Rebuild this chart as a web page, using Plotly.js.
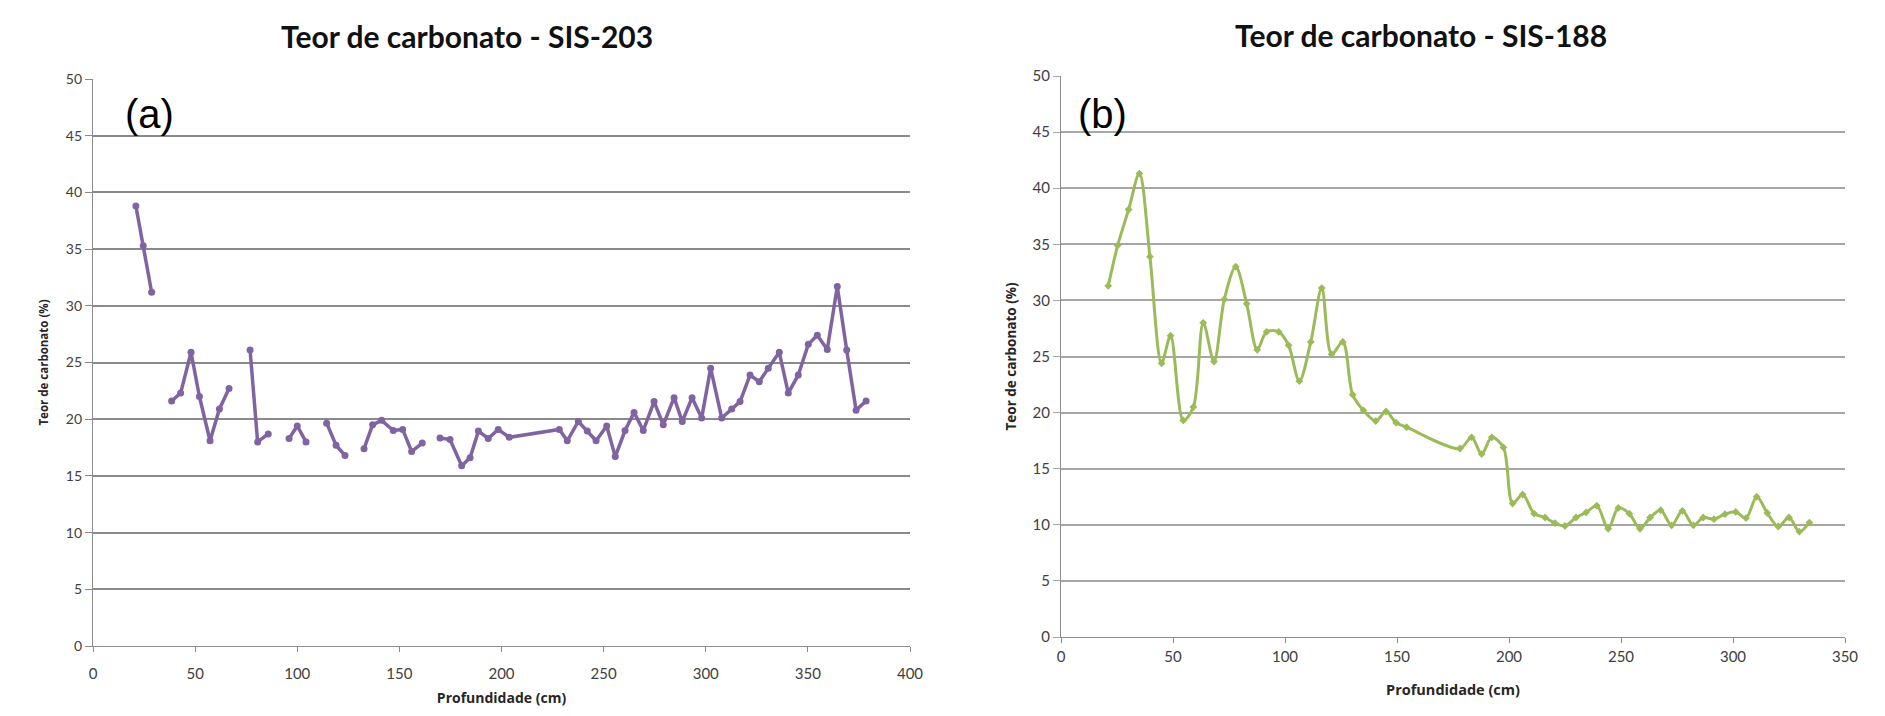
<!DOCTYPE html>
<html>
<head>
<meta charset="utf-8">
<script src="https://cdn.plot.ly/plotly-3.0.1.min.js"></script>
<style>
html,body{margin:0;padding:0;background:#fff;}
#chart{width:1885px;height:716px;}
</style>
</head>
<body>
<div id="chart"></div>
<script>
// SIS-203 (a): depth (cm) and carbonate content (%); null = gap in the series
const depthA = [21, 24.6, 28.7, null, 38.5, 42.9, 48, 52.1, 57.3, 61.9, 66.6, null, 76.9, 80.6, 85.8, null, 96, 100, 104.3, null, 114.4, 119, 123.4, null, 132.7, 136.9, 141.3, 147, 151.6, 156, 161.2, null, 169.9, 174.8, 180.5, 184.6, 188.7, 193.5, 198.4, 203.8, 228.3, 232.2, 237.6, 242, 246.3, 251.5, 255.7, 260.5, 264.9, 269.4, 274.7, 279.2, 284.5, 288.5, 293.3, 298, 302.4, 307.8, 312.7, 316.8, 321.7, 326.2, 330.6, 336, 340.4, 345.3, 350.2, 354.6, 359.5, 364.4, 369, 373.6, 378.5];
const carbA = [38.8, 35.3, 31.2, null, 21.6, 22.3, 25.9, 22.0, 18.1, 20.9, 22.7, null, 26.1, 18.0, 18.7, null, 18.3, 19.4, 18.0, null, 19.65, 17.7, 16.8, null, 17.4, 19.5, 19.9, 19.0, 19.1, 17.15, 17.9, null, 18.35, 18.2, 15.9, 16.6, 18.95, 18.3, 19.1, 18.4, 19.1, 18.1, 19.8, 18.95, 18.1, 19.4, 16.7, 19.0, 20.6, 19.0, 21.55, 19.5, 21.9, 19.8, 21.9, 20.1, 24.5, 20.1, 20.9, 21.55, 23.9, 23.3, 24.5, 25.9, 22.3, 23.9, 26.6, 27.4, 26.15, 31.7, 26.1, 20.8, 21.6];

// SIS-188 (b)
const depthB = [21.1, 25.3, 30.2, 35.0, 39.7, 44.9, 48.9, 54.6, 59.1, 63.5, 68.3, 72.9, 78, 82.9, 87.6, 91.8, 97.2, 101.6, 106.4, 111.5, 116.4, 120.8, 125.8, 130.2, 135, 140.5, 145.1, 149.6, 154.3, 178.1, 183.3, 187.8, 192.3, 197.5, 201.6, 206.1, 211.2, 216.1, 220.5, 225, 229.9, 234.4, 239.2, 244.3, 248.8, 253.7, 258.5, 263, 267.7, 272.6, 277.4, 282.3, 286.7, 291.5, 296.4, 301.2, 305.8, 310.6, 315.3, 320.2, 325, 329.6, 334.1];
const carbB = [31.3, 34.9, 38.1, 41.3, 33.9, 24.4, 26.85, 19.3, 20.5, 28.0, 24.55, 30.1, 33.0, 29.7, 25.6, 27.2, 27.2, 26.0, 22.8, 26.3, 31.1, 25.2, 26.3, 21.6, 20.2, 19.25, 20.1, 19.1, 18.7, 16.8, 17.8, 16.3, 17.8, 16.9, 11.9, 12.7, 11.0, 10.65, 10.15, 9.9, 10.65, 11.1, 11.7, 9.65, 11.5, 11.0, 9.65, 10.65, 11.3, 9.95, 11.25, 9.95, 10.65, 10.5, 10.95, 11.15, 10.6, 12.5, 11.05, 9.85, 10.65, 9.4, 10.2];

const titleA = 'Teor de carbonato - SIS-203';
const titleB = 'Teor de carbonato - SIS-188';
const xTitle = 'Profundidade (cm)';
const yTitle = 'Teor de carbonato (%)';

const W = 1885, H = 716;
const px = v => v / W;
const py = v => 1 - v / H;

const traceA = {
  x: depthA, y: carbA, xaxis: 'x', yaxis: 'y',
  type: 'scatter', mode: 'lines+markers', connectgaps: false,
  line: {color: '#8064A2', width: 3.5},
  marker: {color: '#8064A2', size: 7, symbol: 'circle'},
  hoverinfo: 'x+y', showlegend: false
};
const traceB = {
  x: depthB, y: carbB, xaxis: 'x2', yaxis: 'y2',
  type: 'scatter', mode: 'lines+markers',
  line: {color: '#9BBB59', width: 3, shape: 'spline', smoothing: 0.9},
  marker: {color: '#9BBB59', size: 6, symbol: 'diamond'},
  hoverinfo: 'x+y', showlegend: false
};

const tickFont = {family: 'Lato, "Open Sans", sans-serif', size: 14, color: '#404040'};
const axTitleFont = {family: '"Open Sans", Lato, sans-serif', color: '#262626'};

function yAxis(dom, anchor, gridc, size, tsize, tstand) {
  return {
    domain: dom, anchor: anchor, range: [0, 50], dtick: 5, tick0: 0,
    showgrid: true, gridcolor: gridc, gridwidth: 1.6,
    showline: true, linecolor: '#8c8c8c', linewidth: 1.2,
    ticks: 'outside', ticklen: 7, tickcolor: gridc, tickwidth: 1.2,
    zeroline: false, fixedrange: true,
    tickfont: Object.assign({}, tickFont, {size: size}),
    title: {text: '<b>' + yTitle + '</b>', font: Object.assign({}, axTitleFont, {size: tsize}), standoff: tstand}
  };
}
function xAxis(dom, anchor, rng, size, lstand, tsize, tstand) {
  return {
    domain: dom, anchor: anchor, range: rng, dtick: 50, tick0: 0,
    showgrid: false, showline: true, linecolor: '#8c8c8c', linewidth: 1.2,
    ticks: 'outside', ticklen: 5, tickcolor: '#8c8c8c',
    ticklabelstandoff: lstand,
    zeroline: false, fixedrange: true,
    tickfont: Object.assign({}, tickFont, {size: size}),
    title: {text: '<b>' + xTitle + '</b>', font: Object.assign({}, axTitleFont, {size: tsize}), standoff: tstand}
  };
}

const layout = {
  width: W, height: H,
  margin: {l: 0, r: 0, t: 0, b: 0},
  paper_bgcolor: '#fff', plot_bgcolor: '#fff',
  xaxis: xAxis([px(93), px(910)], 'y', [0, 400], 15, 9, 14, 12),
  yaxis: yAxis([py(646), py(79)], 'x', '#8a8a8a', 14, 11.5, 14),
  xaxis2: xAxis([px(1061), px(1845)], 'y2', [0, 350], 15, 1, 14.5, 20),
  yaxis2: yAxis([py(637), py(76)], 'x2', '#a6a6a6', 15, 13.5, 12),
  annotations: [
    {text: '<b>' + titleA + '</b>', xref: 'paper', yref: 'paper', x: px(467), y: py(36),
     xanchor: 'center', yanchor: 'middle', showarrow: false,
     font: {family: 'Lato, "Open Sans", sans-serif', size: 30, color: '#111'}},
    {text: '<b>' + titleB + '</b>', xref: 'paper', yref: 'paper', x: px(1421), y: py(35),
     xanchor: 'center', yanchor: 'middle', showarrow: false,
     font: {family: 'Lato, "Open Sans", sans-serif', size: 30, color: '#111'}},
    {text: '(a)', xref: 'paper', yref: 'paper', x: px(123), y: py(114),
     xanchor: 'left', yanchor: 'middle', showarrow: false,
     font: {family: '"Liberation Sans", Arial, sans-serif', size: 40, color: '#000'}},
    {text: '(b)', xref: 'paper', yref: 'paper', x: px(1076), y: py(114),
     xanchor: 'left', yanchor: 'middle', showarrow: false,
     font: {family: '"Liberation Sans", Arial, sans-serif', size: 40, color: '#000'}}
  ]
};

Plotly.newPlot('chart', [traceA, traceB], layout, {displayModeBar: false});
</script>
</body>
</html>
